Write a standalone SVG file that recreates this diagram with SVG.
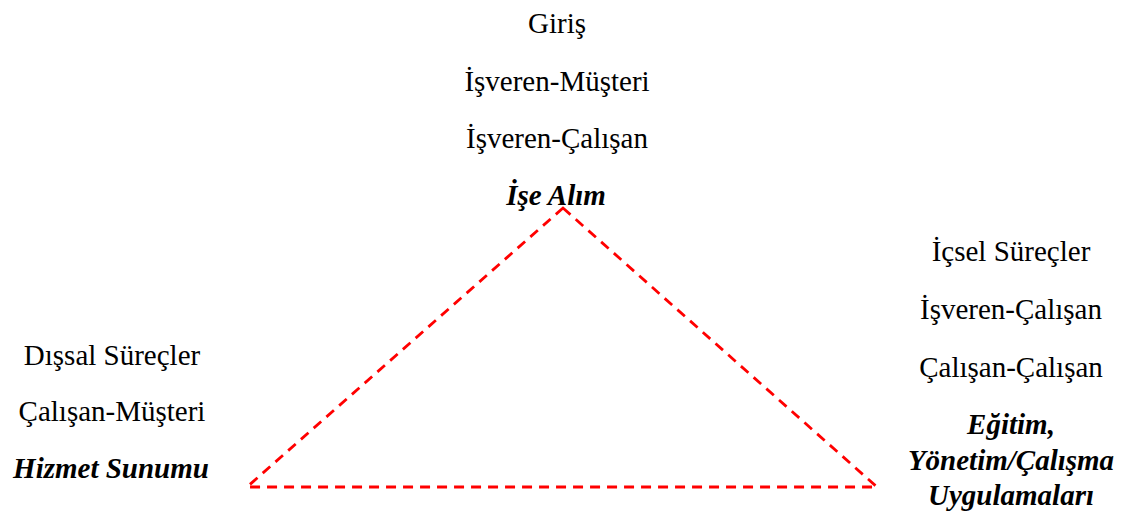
<svg xmlns="http://www.w3.org/2000/svg" width="1131" height="516" viewBox="0 0 1131 516">
<style>
text{font-family:"Liberation Serif","Times New Roman",serif;font-size:29px;fill:#000;text-anchor:middle}
.b{font-weight:bold;font-style:italic}
.tri{fill:none;stroke:#ff0000;stroke-width:2.8;stroke-dasharray:10 7}
</style>
<rect width="1131" height="516" fill="#fff"/>
<g id="connectors">
<path class="tri" d="M563 208 L877 487 L247 487 Z"/>
</g>
<g id="node-top">
<text x="557" y="33">Giriş</text>
<text x="557" y="91">İşveren-Müşteri</text>
<text x="557" y="148">İşveren-Çalışan</text>
<text class="b" x="556" y="205">İşe Alım</text>
</g>
<g id="node-left">
<text x="112" y="365">Dışsal Süreçler</text>
<text x="112" y="421">Çalışan-Müşteri</text>
<text class="b" x="111" y="478">Hizmet Sunumu</text>
</g>
<g id="node-right">
<text x="1011" y="261">İçsel Süreçler</text>
<text x="1011" y="319">İşveren-Çalışan</text>
<text x="1011" y="377">Çalışan-Çalışan</text>
<text class="b" x="1011" y="434">Eğitim,</text>
<text class="b" x="1011" y="470">Yönetim/Çalışma</text>
<text class="b" x="1011" y="505">Uygulamaları</text>
</g>
</svg>
